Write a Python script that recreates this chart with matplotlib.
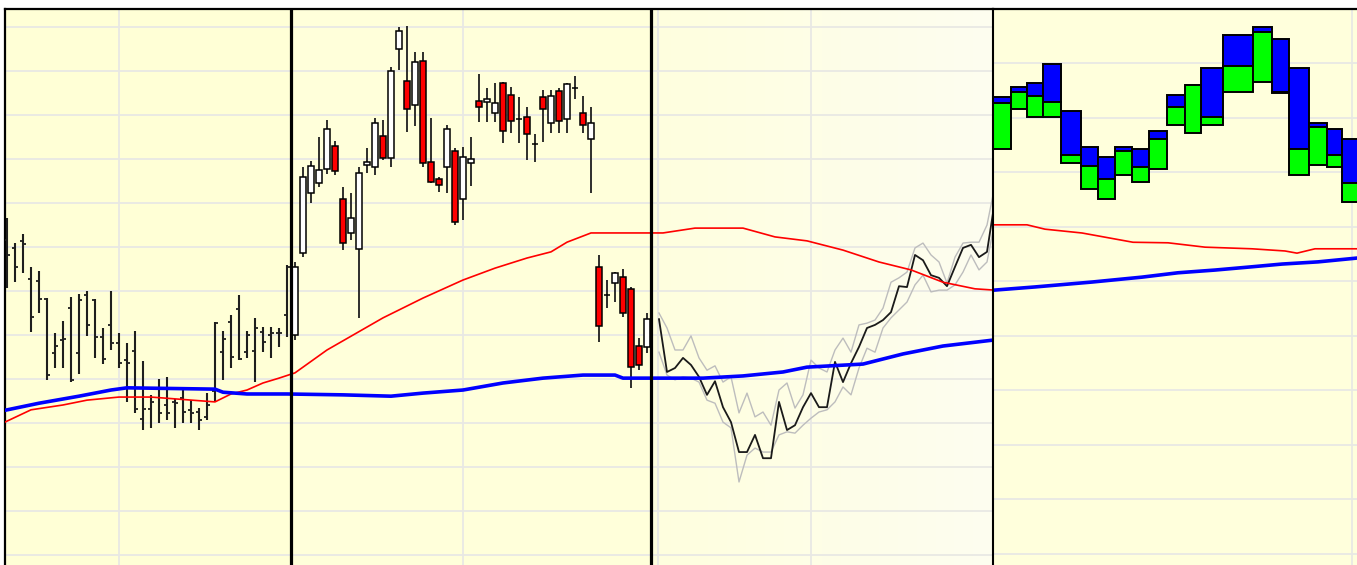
import numpy as np
import matplotlib
matplotlib.use("Agg")
from matplotlib import pyplot as plt

# panel 1: OHLC bars
p1_open = [71.6, 69.8, 71.4, 62.7, 62.3, 58.2, 45.9, 48.9, 56.1, 45.9, 59.1, 58.0, 49.5, 52.3, 48.2, 44.3, 46.4, 30.9,
           33.2, 37.7, 34.1, 34.8, 35.7, 33.0, 32.5, 31.4, 37.3, 46.1, 53.0, 55.9, 46.1, 46.4, 50.7, 50.0, 50.5, 54.5]
p1_high = [76.6, 70.9, 73.0, 65.5, 64.5, 58.4, 50.5, 53.2, 58.6, 59.3, 60.0, 58.2, 51.6, 60.0, 50.5, 48.2, 50.9, 44.1,
           36.4, 40.0, 40.5, 35.5, 38.0, 35.2, 33.4, 36.8, 53.0, 50.9, 54.5, 59.1, 50.9, 53.9, 51.8, 51.8, 51.6, 65.9]
p1_low = [60.7, 62.0, 64.1, 50.7, 55.0, 39.8, 42.5, 42.5, 39.3, 41.1, 49.8, 44.8, 43.4, 46.6, 42.5, 34.8, 32.3, 28.4,
          28.9, 30.0, 30.7, 28.9, 30.0, 30.0, 28.4, 30.7, 34.8, 39.8, 42.5, 44.3, 44.8, 39.3, 46.1, 44.8, 47.3, 49.5]
p1_close = [68.2, 65.5, 70.7, 54.1, 58.2, 40.9, 47.5, 49.1, 39.8, 58.0, 52.3, 49.5, 44.5, 48.2, 43.6, 43.6, 33.2, 33.2,
            34.8, 32.3, 32.3, 34.5, 32.5, 32.3, 30.7, 34.1, 52.7, 49.1, 45.0, 44.5, 50.0, 51.6, 48.4, 50.5, 50.5, 65.5]

# panel 2: candlesticks
p2_open = [50.0, 68.6, 82.3, 84.5, 87.7, 93.0, 80.9, 73.2, 69.5, 88.6, 88.2, 95.2, 90.2, 115.0, 107.7, 102.3, 112.3,
           89.3, 85.5, 88.2, 91.8, 80.9, 89.1, 103.2, 103.0, 100.5, 107.3, 104.5, 99.1, 99.5, 93.4, 104.1, 98.2, 105.5,
           99.1, 106.1, 100.5, 94.5, 65.5, 59.1, 61.8, 63.2, 60.5, 47.5, 47.3]
p2_high = [66.6, 88.2, 89.5, 95.0, 98.9, 94.1, 83.6, 82.3, 88.2, 92.5, 99.3, 98.9, 110.9, 120.0, 120.2, 114.3, 114.3,
           99.3, 85.9, 97.7, 92.5, 92.7, 95.0, 109.3, 106.1, 107.3, 107.5, 106.4, 104.1, 101.8, 95.7, 105.7, 105.7,
           106.1, 107.3, 108.9, 104.3, 101.8, 68.2, 62.5, 64.3, 65.0, 60.9, 49.3, 55.0]
p2_low = [48.9, 67.7, 80.0, 83.6, 86.6, 86.4, 69.3, 71.6, 53.9, 86.8, 86.4, 89.8, 88.2, 110.2, 96.1, 97.5, 88.2, 84.5,
          82.5, 82.3, 75.0, 76.1, 83.9, 98.4, 98.4, 98.4, 93.6, 95.9, 93.6, 89.8, 89.3, 93.9, 95.9, 95.9, 95.9, 103.6,
          95.9, 82.3, 48.4, 56.1, 57.5, 54.1, 38.0, 42.0, 45.9]
p2_close = [65.5, 85.9, 88.4, 87.5, 96.8, 87.3, 70.9, 76.6, 86.8, 89.3, 98.2, 90.2, 110.0, 119.1, 101.4, 112.0, 89.1,
            84.8, 84.1, 96.8, 75.7, 90.5, 90.0, 101.8, 103.6, 102.7, 96.4, 98.6, 99.1, 95.7, 93.4, 101.4, 104.3, 98.6,
            107.0, 106.1, 97.7, 98.2, 52.0, 59.1, 64.1, 55.0, 42.7, 43.2, 53.6]

# panel 3: close line with upper / lower lines
p3_close = [53.6, 41.6, 42.5, 44.8, 43.2, 40.5, 36.4, 39.5, 33.6, 30.2, 23.4, 23.4, 27.3, 22.0, 22.0, 34.8, 28.4, 29.5,
            33.6, 36.8, 33.6, 33.6, 43.9, 39.3, 43.6, 47.3, 51.6, 52.3, 53.4, 55.2, 61.1, 60.9, 68.2, 67.0, 63.6, 63.0,
            61.1, 65.5, 69.8, 70.5, 67.7, 68.9, 80.7]
p3_upper = [55.0, 51.6, 46.6, 46.6, 49.8, 44.8, 42.0, 43.0, 39.3, 40.5, 32.3, 36.8, 31.4, 32.5, 29.5, 37.5, 39.1, 33.4,
            36.4, 44.3, 42.5, 41.6, 46.6, 49.3, 46.1, 52.3, 52.7, 53.4, 56.1, 62.0, 63.0, 64.3, 69.8, 70.9, 68.2, 66.6,
            61.8, 67.7, 70.9, 71.1, 71.1, 75.0, 84.1]
p3_lower = [46.1, 40.9, 39.8, 40.5, 40.2, 39.3, 35.2, 34.5, 30.2, 28.9, 16.6, 22.7, 24.3, 23.4, 23.4, 27.3, 28.0, 27.7,
            29.5, 31.1, 32.5, 33.0, 34.8, 38.2, 36.4, 42.5, 47.0, 46.1, 51.6, 53.9, 55.7, 57.5, 61.4, 63.6, 59.8, 60.2,
            60.2, 61.4, 64.3, 68.2, 64.8, 66.6, 76.1]

# moving averages across panels 1-3 (bar index, value)
ma_red_x = [-0.5, 3, 7, 10, 14, 18, 26, 28, 30, 32, 34, 36, 40, 47, 52, 57, 61, 65, 68, 70, 73, 82, 86, 92, 96, 100,
            104.5, 109, 113, 117, 121, 123.5]
ma_red = [30.0, 33.0, 34.1, 35.2, 35.9, 35.9, 34.8, 36.6, 37.5, 39.1, 40.2, 41.4, 46.6, 53.9, 58.4, 62.5, 65.2, 67.5,
          68.9, 71.1, 73.2, 73.2, 74.3, 74.3, 72.3, 71.4, 69.3, 66.6, 64.8, 62.0, 60.5, 60.2]
ma_blue_x = [-0.5, 4, 9, 13, 15, 26, 27, 30, 35, 42, 48, 52, 57, 62, 67, 72, 76, 77, 87, 92, 97, 100, 107, 112, 117,
             123.5]
ma_blue = [32.8, 34.5, 36.1, 37.5, 38.0, 37.7, 37.0, 36.6, 36.6, 36.4, 36.1, 36.8, 37.5, 39.1, 40.2, 40.9, 40.9, 40.2,
           40.2, 40.7, 41.6, 42.7, 43.4, 45.7, 47.5, 48.9]
v_grid = [14, 57, 81.4, 100.5]

# panel 4: equivolume boxes
p4_volume = [18, 16, 16, 18, 20, 17, 17, 17, 17, 18, 18, 16, 22, 30, 19, 17, 20, 18, 15, 16]
p4_top = [83.9, 85.7, 86.4, 89.9, 81.3, 74.7, 72.8, 74.7, 74.3, 77.6, 84.2, 86.1, 89.2, 95.2, 96.7, 94.5, 89.2, 79.1,
          78.0, 76.1]
p4_mid = [82.8, 84.8, 84.0, 82.9, 73.2, 71.2, 68.8, 73.9, 71.0, 76.1, 82.0, 86.1, 80.2, 89.5, 95.8, 84.8, 74.3, 78.3,
          73.2, 68.1]
p4_bottom = [74.3, 81.7, 80.2, 80.2, 71.7, 67.0, 65.1, 69.5, 68.3, 70.6, 78.7, 77.2, 78.7, 84.8, 86.6, 84.6, 69.5,
             71.4, 71.0, 64.6]
p4_red_x = [0, 34, 52, 89, 122, 140, 175, 212, 259, 292, 304, 322, 364]
p4_red = [60.4, 60.4, 59.6, 58.9, 57.8, 57.2, 57.1, 56.3, 56.0, 55.6, 55.2, 56.0, 56.0]
p4_blue_x = [0, 42, 99, 149, 185, 222, 259, 289, 325, 364]
p4_blue = [48.4, 49.0, 49.9, 50.8, 51.6, 52.1, 52.7, 53.2, 53.6, 54.3]

W, H = 1357, 565
fig = plt.figure(figsize=(W / 100, H / 100), dpi=100)
fig.patch.set_facecolor("white")

ax = fig.add_axes([5 / W, 0, 988 / W, 556 / H])
ax4 = fig.add_axes([993 / W, 0, 364 / W, 556 / H])

grid_c = "#e8e8e4"
x_left, x_right = -0.25, 123.25
y_lo, y_hi = -2.27, 124.1

# backgrounds
ax.axvspan(x_left, 35.5, color="#ffffd6", lw=0, zorder=0)
ax.axvspan(35.5, 80.5, color="#ffffda", lw=0, zorder=0)
t = np.linspace(0, 1, 256)[None, :, None]
c0 = np.array([255, 255, 222]) / 255
c1 = np.array([253, 253, 240]) / 255
ax.imshow(c0 * (1 - t) + c1 * t, extent=[80.5, x_right, y_lo, y_hi], aspect="auto", zorder=0)

for v in range(0, 130, 10):
    ax.axhline(v, color=grid_c, lw=1.3, zorder=1)
for v in v_grid:
    ax.axvline(v, color=grid_c, lw=1.3, zorder=1)

# OHLC bars
x1 = np.arange(len(p1_open))
ax.vlines(x1, p1_low, p1_high, color="#1e1e1e", lw=1.5, zorder=3)
ax.hlines(p1_open, x1 - 0.4, x1, color="#1e1e1e", lw=1.3, zorder=3)
ax.hlines(p1_close, x1, x1 + 0.4, color="#1e1e1e", lw=1.3, zorder=3)

# candlesticks
x2 = np.arange(len(p1_open), len(p1_open) + len(p2_open))
o2 = np.array(p2_open)
c2 = np.array(p2_close)
cols = ["red" if c < o else "white" for o, c in zip(o2, c2)]
ax.vlines(x2, p2_low, p2_high, color="#1e1e1e", lw=1.3, zorder=3)
ax.bar(x2, c2 - o2, bottom=o2, width=0.8, color=cols, edgecolor="black", lw=1.1, zorder=4)

# line panel
x3 = x2[-1] + 1.5 + np.arange(len(p3_close))
ax.plot(x3, p3_upper, color="#bdbdbd", lw=1.0, zorder=3)
ax.plot(x3, p3_lower, color="#bdbdbd", lw=1.0, zorder=3)
ax.plot(x3, p3_close, color="#1a1a1a", lw=1.3, zorder=4)

# moving averages
ax.plot(ma_red_x, ma_red, color="red", lw=1.2, zorder=6)
ax.plot(ma_blue_x, ma_blue, color="#0000ff", lw=2.6, zorder=6)

# panel separators
ax.axvline(35.5, color="black", lw=2.3, zorder=8)
ax.axvline(80.5, color="black", lw=2.3, zorder=8)

ax.set_xlim(x_left, x_right)
ax.set_ylim(y_lo, y_hi)
ax.set_xticks([])
ax.set_yticks([])
ax.spines["bottom"].set_visible(False)
ax.spines["right"].set_visible(False)
for s in ["top", "left"]:
    ax.spines[s].set_linewidth(1.6)

# equivolume panel
ax4.set_facecolor("#ffffdc")
for v in range(0, 100, 10):
    ax4.axhline(v, color=grid_c, lw=1.3, zorder=1)
ax4.axvline(359, color=grid_c, lw=1.3, zorder=1)
vol = np.array(p4_volume)
lefts = np.cumsum(vol) - vol
top = np.array(p4_top)
mid = np.array(p4_mid)
bot = np.array(p4_bottom)
ax4.bar(lefts, top - mid, bottom=mid, width=vol, align="edge", color="#0000ff", edgecolor="black", lw=1.4, zorder=4)
ax4.bar(lefts, mid - bot, bottom=bot, width=vol, align="edge", color="#00ff00", edgecolor="black", lw=1.4, zorder=4)
ax4.plot(p4_red_x, p4_red, color="red", lw=1.2, zorder=5)
ax4.plot(p4_blue_x, p4_blue, color="#0000ff", lw=2.6, zorder=5)

ax4.set_xlim(0, 364)
ax4.set_ylim(-2.02, 100)
ax4.set_xticks([])
ax4.set_yticks([])
for s in ["bottom", "right"]:
    ax4.spines[s].set_visible(False)
ax4.spines["top"].set_linewidth(1.6)
ax4.spines["left"].set_linewidth(1.5)
ax4.spines["left"].set_zorder(10)

fig.savefig("out.png", dpi=100)
